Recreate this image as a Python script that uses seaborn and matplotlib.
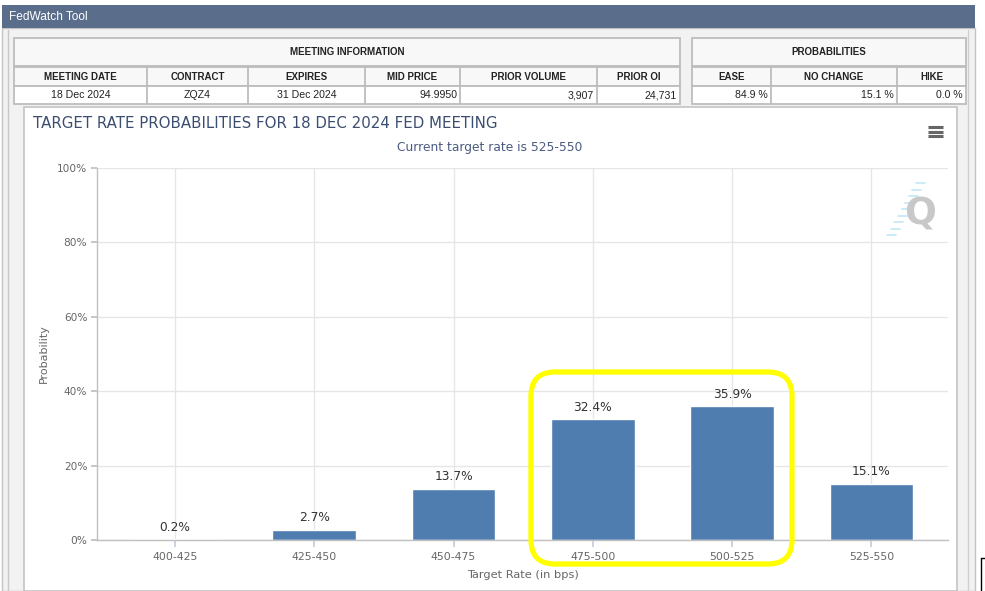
import matplotlib
matplotlib.use("Agg")
import matplotlib.pyplot as plt
import seaborn as sns
from matplotlib.patches import Rectangle, FancyBboxPatch

# ---------------- data ----------------
rate_bins = ["400-425", "425-450", "450-475", "475-500", "500-525", "525-550"]
probs = [0.2, 2.7, 13.7, 32.4, 35.9, 15.1]

meeting_cols = ["MEETING DATE", "CONTRACT", "EXPIRES", "MID PRICE", "PRIOR VOLUME", "PRIOR OI"]
meeting_vals = ["18 Dec 2024", "ZQZ4", "31 Dec 2024", "94.9950", "3,907", "24,731"]
prob_cols = ["EASE", "NO CHANGE", "HIKE"]
prob_vals = ["84.9 %", "15.1 %", "0.0 %"]

y_ticks = [0, 20, 40, 60, 80, 100]

title = "TARGET RATE PROBABILITIES FOR 18 DEC 2024 FED MEETING"
subtitle = "Current target rate is 525-550"

# ---------------- layout (pixels) ----------------
W, H = 985, 591
meet_edges = [14, 147, 248, 365, 460, 597, 680]
meet_align = ["center", "center", "center", "right", "right", "right"]
prob_edges = [692, 771, 897, 966]
bar_color = "#4f7db0"

sns.set_theme(style="whitegrid")
plt.rcParams["font.family"] = ["DejaVu Sans"]

fig = plt.figure(figsize=(W / 100, H / 100), dpi=100)

# background canvas in pixel coordinates
bg = fig.add_axes([0, 0, 1, 1], zorder=0)
bg.set_xlim(0, W)
bg.set_ylim(H, 0)
bg.axis("off")

bg.add_patch(Rectangle((2, 28), 973, H - 28, fc="#f2f2f2", ec="#c4c4c4", lw=1))
bg.plot([8, 8], [30, H], color="#c8c8c8", lw=1)
bg.plot([968, 968], [30, H], color="#d0d0d0", lw=1)
bg.add_patch(Rectangle((2, 5), 973, 23, fc="#5a6d8a", ec="none"))
bg.text(9, 16.5, "FedWatch Tool", color="white", fontsize=8.6,
        family="Liberation Sans", va="center")
bg.plot([981, 985], [558, 558], color="black", lw=1)
bg.plot([981, 981], [558, H], color="black", lw=1)


def draw_table(edges, heading, cols, vals, aligns):
    x0, x1 = edges[0], edges[-1]
    bg.add_patch(Rectangle((x0, 38), x1 - x0, 28, fc="#f8f8f8", ec="#bdbdbd", lw=1.3))
    bg.add_patch(Rectangle((x0, 67), x1 - x0, 19, fc="#f8f8f8", ec="#bdbdbd", lw=1.3))
    bg.add_patch(Rectangle((x0, 86), x1 - x0, 18, fc="white", ec="#bdbdbd", lw=1.3))
    bg.text((x0 + x1) / 2, 52, heading, ha="center", va="center", fontsize=7,
            fontweight="bold", family="Liberation Sans", color="#222")
    for i, (c, v) in enumerate(zip(cols, vals)):
        a, b = edges[i], edges[i + 1]
        if i > 0:
            bg.plot([a, a], [67, 104], color="#bdbdbd", lw=1.3)
        bg.text((a + b) / 2, 77, c, ha="center", va="center", fontsize=7,
                fontweight="bold", family="Liberation Sans", color="#222")
        xv = (a + b) / 2 if aligns[i] == "center" else b - 3
        bg.text(xv, 95.5, v, ha=aligns[i], va="center", fontsize=7.6,
                family="Liberation Sans", color="#222")


draw_table(meet_edges, "MEETING INFORMATION", meeting_cols, meeting_vals, meet_align)
draw_table(prob_edges, "PROBABILITIES", prob_cols, prob_vals, ["right"] * 3)

# chart panel
bg.add_patch(Rectangle((24, 107), 933, H - 107, fc="white", ec="#c4c4c4", lw=1.2))
bg.text(33, 124, title, fontsize=10.8, color="#3b4d70", va="center")
bg.text(490, 148, subtitle, fontsize=8.8, color="#4a5a80", ha="center", va="center")
bg.text(44, 354, "Probability", rotation=90, fontsize=8, color="#666666",
        ha="center", va="center")
bg.text(523, 575, "Target Rate (in bps)", fontsize=8.2, color="#666666",
        ha="center", va="center")

# hamburger menu icon
for yy in (127, 131.5, 136):
    bg.plot([928, 943], [yy, yy], color="#666666", lw=2.2, solid_capstyle="butt")

# watermark
for k in range(9):
    yy = 183 + k * 6.5
    xs = 925 - k * 3.6
    bg.plot([xs - 9, xs], [yy, yy], color="#c4e8f6", lw=1.2)
bg.text(920, 214, "Q", fontsize=27, fontweight="bold", color="#c8c8c8",
        ha="center", va="center")

# ---------------- bar chart ----------------
ax = fig.add_axes([97 / W, (H - 540) / H, 851 / W, 372 / H], zorder=1)
ax.patch.set_alpha(0)
sns.barplot(x=rate_bins, y=probs, color=bar_color, saturation=1, width=0.6,
            ax=ax, zorder=2)
ax.set_xlim(-0.56, len(rate_bins) - 0.45)
ax.set_ylim(0, 100)
ax.set_yticks(y_ticks)
ax.set_yticklabels([f"{t}%" for t in y_ticks])
ax.set_xlabel("")
ax.set_ylabel("")
ax.grid(True, color="#e6e6e6", lw=1)
ax.set_axisbelow(True)
for s in ("top", "right"):
    ax.spines[s].set_visible(False)
for s in ("left", "bottom"):
    ax.spines[s].set_visible(True)
    ax.spines[s].set_color("#c0c0c0")
    ax.spines[s].set_linewidth(1)
ax.tick_params(axis="x", length=5, color="#c0d0e0", labelcolor="#666666",
               labelsize=7.8, pad=4, bottom=True)
ax.tick_params(axis="y", length=4, color="#c0c0c0", labelcolor="#666666",
               labelsize=7.6, pad=3, left=True)
ax.bar_label(ax.containers[0], labels=[f"{v}%" for v in probs], padding=4,
             fontsize=8.8, color="#333333")

# highlight box
fg = fig.add_axes([0, 0, 1, 1], zorder=3)
fg.set_xlim(0, W)
fg.set_ylim(H, 0)
fg.axis("off")
fg.patch.set_alpha(0)
fg.add_patch(FancyBboxPatch((531, 372), 261, 192,
                            boxstyle="round,pad=0,rounding_size=24",
                            ec="#ffff00", fc="none", lw=3.8))

fig.savefig("out.png", dpi=100)
